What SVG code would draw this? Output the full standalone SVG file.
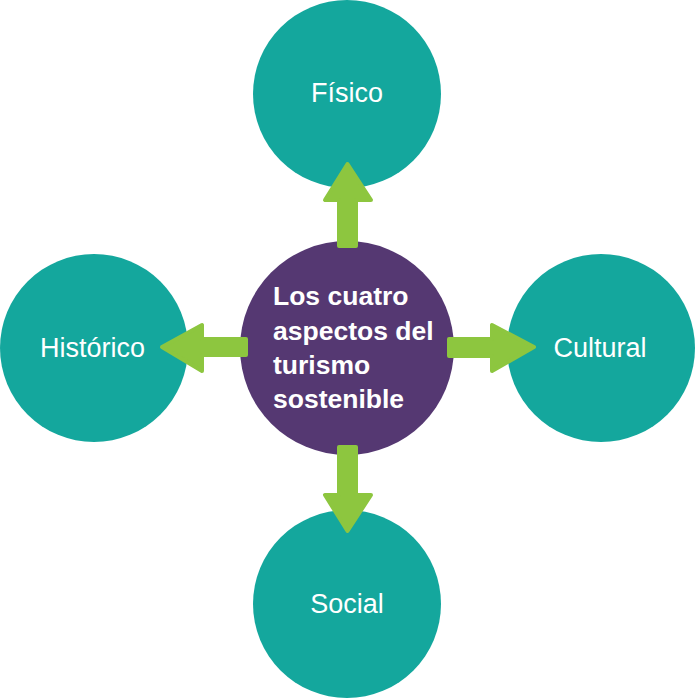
<svg xmlns="http://www.w3.org/2000/svg" width="695" height="698" viewBox="0 0 695 698">
<style>
.outer{fill:#14A79D}
.center{fill:#553872}
.arrow{fill:#8DC63F;stroke:#8DC63F;stroke-width:4;stroke-linejoin:round}
.lbl{font-family:"Liberation Sans",Arial,sans-serif;font-size:27px;fill:#fff;text-anchor:middle}
.ctr{font-family:"Liberation Sans",Arial,sans-serif;font-size:26.5px;font-weight:bold;fill:#fff}
</style>
<rect width="695" height="698" fill="#fff"/>
<g id="node-fisico"><circle class="outer" cx="347" cy="94" r="94"/><text class="lbl" x="347" y="102">Físico</text></g>
<g id="node-social"><circle class="outer" cx="347" cy="604" r="94"/><text class="lbl" x="347" y="613">Social</text></g>
<g id="node-historico"><circle class="outer" cx="94" cy="348" r="94"/><text class="lbl" x="92.5" y="357">Histórico</text></g>
<g id="node-cultural"><circle class="outer" cx="601" cy="348" r="94"/><text class="lbl" x="600" y="357">Cultural</text></g>
<g id="node-center"><circle class="center" cx="347" cy="348" r="107"/>
<text class="ctr" x="273" y="305">Los cuatro</text>
<text class="ctr" x="273" y="339.5">aspectos del</text>
<text class="ctr" x="273" y="374">turismo</text>
<text class="ctr" x="273" y="408">sostenible</text>
</g>
<g id="connectors">
<polygon class="arrow" points="339,246 356,246 356,200 371,200 347.5,164 325,200 339,200"/>
<polygon class="arrow" points="339,447 356,447 356,495 371,495 347.5,531 325,495 339,495"/>
<polygon class="arrow" points="246,339 246,355 202,355 202,371 162,347 202,325 202,339"/>
<polygon class="arrow" points="449,339 449,356 492,356 492,371 534,347 492,325 492,339"/>
</g>
</svg>
